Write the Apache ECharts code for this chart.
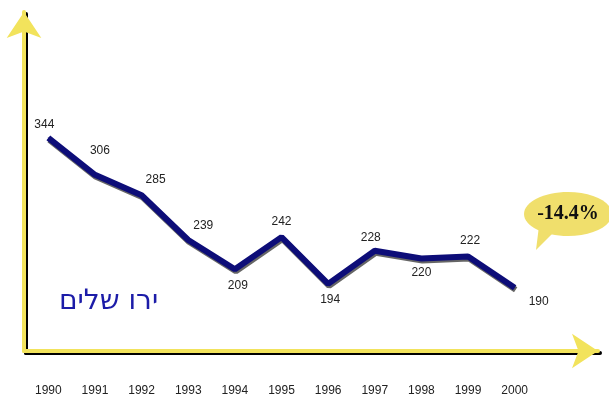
<!DOCTYPE html>
<html>
<head>
<meta charset="utf-8">
<script src="https://cdn.jsdelivr.net/npm/echarts@6/dist/echarts.min.js"></script>
<style>
html, body { margin: 0; padding: 0; background: #fff; }
#ct1 { width: 609px; height: 405px; }
</style>
</head>
<body>
<div id="ct1"></div>
<script>
// data
var years = ['1990', '1991', '1992', '1993', '1994', '1995', '1996', '1997', '1998', '1999', '2000'];
var visitors = [344, 306, 285, 239, 209, 242, 194, 228, 220, 222, 190];
var cityName = 'ירו שלים';
var changeText = '-14.4%';

// label shifts from the point (px)
var labelShift = [[-4, -13], [5, -24], [14, -15], [15, -14], [3, 17], [0, -15],
	[2, 16], [-4, -13], [0, 15], [2, -15], [24, 14]];

var axisYellow = '#f2e35c';

var seriesData = [];
for (var i = 0; i < visitors.length; i++) {
	seriesData.push({
		value : visitors[i],
		label : { offset : labelShift[i] }
	});
}

var frameAxis = {
	type : 'value',
	min : 0,
	max : 1,
	axisLabel : { show : false },
	axisTick : { show : false },
	splitLine : { show : false },
	axisLine : {
		show : true,
		symbol : ['none', 'arrow'],
		symbolSize : [26, 26],
		lineStyle : {
			color : axisYellow,
			width : 4,
			shadowColor : '#000',
			shadowOffsetX : 2,
			shadowOffsetY : 2,
			shadowBlur : 0
		}
	}
};

var option1 = {
	backgroundColor : '#fff',
	animation : false,
	title : {
		text : cityName,
		left : 54,
		top : 283,
		textStyle : {
			color : '#1c1ca8',
			fontSize : 28,
			fontWeight : 'normal',
			fontFamily : 'DejaVu Sans'
		}
	},
	grid : [
		{ left : 24, right : 11, top : 12, bottom : 54 },
		{ left : 25, right : 71, top : 22, bottom : 54 }
	],
	xAxis : [
		frameAxis,
		{
			type : 'category',
			gridIndex : 1,
			data : years,
			boundaryGap : true,
			axisLine : { show : false },
			axisTick : { show : false },
			splitLine : { show : false },
			axisLabel : {
				margin : 34,
				color : '#222',
				fontSize : 12,
				fontFamily : 'Liberation Sans'
			}
		}
	],
	yAxis : [
		frameAxis,
		{
			type : 'value',
			gridIndex : 1,
			min : 125,
			max : 463,
			axisLine : { show : false },
			axisTick : { show : false },
			axisLabel : { show : false },
			splitLine : { show : false }
		}
	],
	series : [{
		type : 'line',
		xAxisIndex : 1,
		yAxisIndex : 1,
		data : seriesData,
		symbol : 'circle',
		symbolSize : 1,
		itemStyle : { color : '#0d0d78' },
		lineStyle : {
			color : '#0d0d78',
			width : 6,
			shadowColor : 'rgba(0,0,0,0.6)',
			shadowOffsetX : 1,
			shadowOffsetY : 2,
			shadowBlur : 0
		},
		label : {
			show : true,
			position : 'top',
			distance : 0,
			verticalAlign : 'middle',
			align : 'center',
			color : '#222',
			fontSize : 12,
			fontFamily : 'Liberation Sans'
		}
	}],
	graphic : [{
		type : 'group',
		left : 524,
		top : 192,
		children : [
			{
				type : 'polygon',
				shape : { points : [[16, 26], [34, 36], [12, 58]] },
				style : { fill : '#f0df6c' }
			},
			{
				type : 'ellipse',
				shape : { cx : 44, cy : 22, rx : 44, ry : 22 },
				style : { fill : '#f0df6c' }
			},
			{
				type : 'text',
				x : 44,
				y : 22,
				style : {
					text : changeText,
					fill : '#111',
					font : 'bold 20px "Liberation Serif"',
					align : 'center',
					verticalAlign : 'middle'
				}
			}
		]
	}]
};

var myChart1 = echarts.init(document.getElementById('ct1'));
myChart1.setOption(option1, true);
</script>
</body>
</html>
